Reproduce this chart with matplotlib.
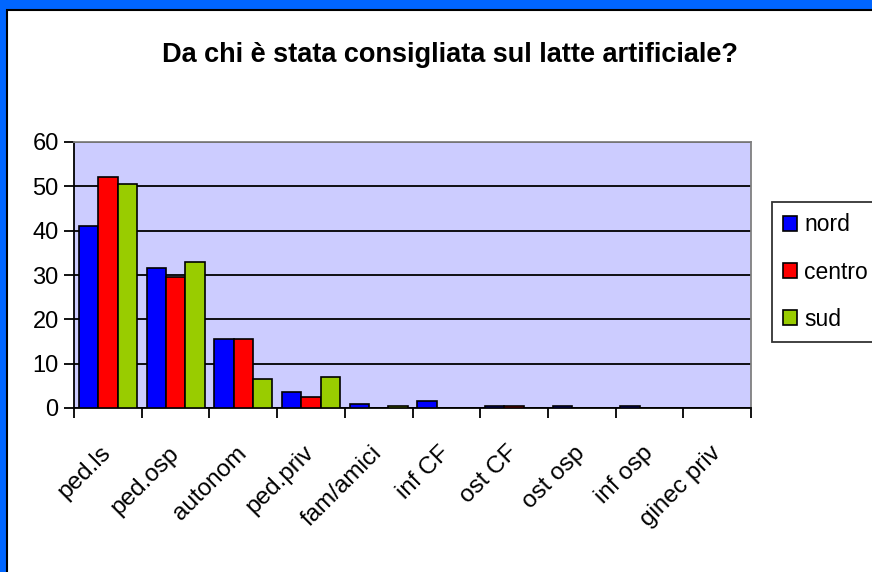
import numpy as np
import matplotlib.pyplot as plt
from matplotlib.patches import Rectangle

plt.rcParams['font.family'] = ['Liberation Sans', 'DejaVu Sans']

categories = ['ped.ls', 'ped.osp', 'autonom', 'ped.priv', 'fam/amici',
              'inf CF', 'ost CF', 'ost osp', 'inf osp', 'ginec priv']
nord = [41, 31.5, 15.5, 3.5, 1, 1.5, 0.5, 0.5, 0.5, 0]
centro = [52, 29.5, 15.5, 2.5, 0, 0, 0.5, 0, 0, 0]
sud = [50.5, 33, 6.5, 7, 0.5, 0, 0, 0, 0, 0]

series = [('nord', nord, '#0000FF'), ('centro', centro, '#FF0000'), ('sud', sud, '#99CC00')]

fig = plt.figure(figsize=(8.72, 5.72), dpi=100)
fig.patch.set_facecolor('#0066FF')
# white chart area with black frame
fig.patches.append(Rectangle((7 / 872, -0.1), 1.2, 1.1 - 10 / 572, transform=fig.transFigure,
                             facecolor='white', edgecolor='black', linewidth=1.5, zorder=-5))

ax = fig.add_axes([74 / 872, 1 - 408 / 572, (751 - 74) / 872, (408 - 142) / 572])
ax.set_facecolor('#CCCCFF')

w = 1 / 3.5
x = np.arange(len(categories))
for k, (name, vals, col) in enumerate(series):
    ax.bar(x + 0.5 + (k - 1) * w, vals, width=w, color=col, edgecolor='black',
           linewidth=1.2, label=name, zorder=3)

ax.set_xlim(0, len(categories))
ax.set_ylim(0, 60)
ax.set_yticks(range(0, 61, 10))
ax.yaxis.grid(True, color='black', linewidth=1.3, zorder=1)
ax.set_axisbelow(True)

ax.set_xticks(range(len(categories) + 1))
ax.set_xticklabels([])
ax.set_xticks(x + 0.5, categories, minor=True)
ax.tick_params(axis='x', which='major', direction='out', length=7, width=1.3)
ax.tick_params(axis='x', which='minor', length=0, pad=30, labelsize=17.5)
for lab in ax.get_xticklabels(minor=True):
    lab.set_rotation(45)
    lab.set_ha('right')
    lab.set_rotation_mode('anchor')
    lab.set_va('center')
ax.tick_params(axis='y', direction='out', length=7, width=1.3, labelsize=17, pad=4)

for s in ['top', 'right']:
    ax.spines[s].set_color('#808080')
    ax.spines[s].set_linewidth(1.3)
for s in ['left', 'bottom']:
    ax.spines[s].set_color('black')
    ax.spines[s].set_linewidth(1.3)

fig.text(450 / 872, 1 - 55 / 572, 'Da chi è stata consigliata sul latte artificiale?',
         ha='center', va='center', fontsize=19.5, fontweight='bold')

leg = fig.legend(loc='upper left', bbox_to_anchor=(772 / 872, 1 - 202 / 572),
                 fontsize=16.5, frameon=True, fancybox=False, edgecolor='black',
                 handlelength=0.6, handleheight=0.6, handletextpad=0.3,
                 labelspacing=1.05, borderpad=0.5, borderaxespad=0)
leg.get_frame().set_linewidth(1.3)

fig.savefig('out.png', dpi=100, facecolor=fig.get_facecolor())
